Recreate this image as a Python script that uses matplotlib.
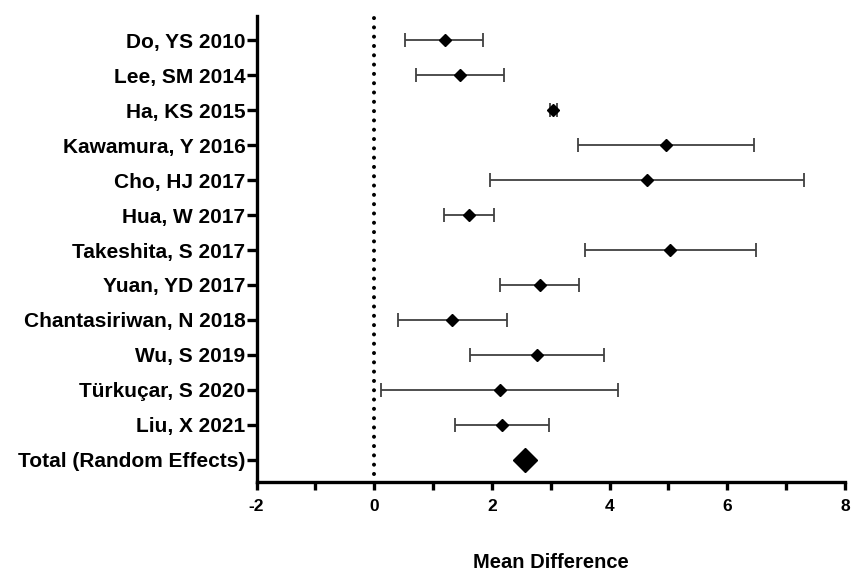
import numpy as np
import matplotlib.pyplot as plt

plt.rcParams['font.family'] = ['Liberation Sans', 'DejaVu Sans']
plt.rcParams['font.weight'] = 'bold'

# study labels, effect sizes and 95% CI
studies = ["Do, YS 2010", "Lee, SM 2014", "Ha, KS 2015", "Kawamura, Y 2016",
           "Cho, HJ 2017", "Hua, W 2017", "Takeshita, S 2017", "Yuan, YD 2017",
           "Chantasiriwan, N 2018", "Wu, S 2019", "Türkuçar, S 2020", "Liu, X 2021"]
mean_diff = [1.20, 1.46, 3.04, 4.96, 4.64, 1.61, 5.03, 2.81, 1.33, 2.77, 2.13, 2.17]
ci_low = [0.53, 0.71, 2.98, 3.47, 1.97, 1.18, 3.58, 2.13, 0.41, 1.63, 0.12, 1.37]
ci_high = [1.85, 2.21, 3.10, 6.45, 7.31, 2.04, 6.48, 3.48, 2.25, 3.90, 4.15, 2.97]
total_label = "Total (Random Effects)"
total_diff = 2.56

labels = studies + [total_label]
pos = np.arange(len(labels))
md = np.array(mean_diff)
err = [md - np.array(ci_low), np.array(ci_high) - md]

fig = plt.figure(figsize=(8.62, 5.73), dpi=100)
ax = fig.add_axes([0.2976, 0.159, 0.6827, 0.813])

# no-effect line
ax.axvline(0, ymin=0.017, ymax=1, color='black', linewidth=2.9,
           linestyle=(0, (0.01, 2.3)), dash_capstyle='round', zorder=1)

# study CIs and point estimates
ax.errorbar(md, pos[:-1], xerr=err, fmt='none', ecolor='#404040',
            elinewidth=1.3, capsize=4.7, capthick=1.3, zorder=2)
ax.plot(md, pos[:-1], 'D', color='black', markersize=6.6, zorder=3)

# pooled estimate
ax.plot([total_diff], [pos[-1]], 'D', color='black', markersize=12.7, zorder=3)

ax.set_xlim(-2, 8)
ax.set_ylim(len(labels) - 1 + 0.63, -0.69)
ax.set_xticks([-2, 0, 2, 4, 6, 8])
ax.set_xticklabels(["-2", "0", "2", "4", "6", "8"])
ax.set_xticks([-1, 1, 3, 5, 7], minor=True)
ax.set_yticks(pos)
ax.set_yticklabels(labels)

for s in ['top', 'right']:
    ax.spines[s].set_visible(False)
for s in ['left', 'bottom']:
    ax.spines[s].set_linewidth(2.4)

ax.tick_params(axis='y', which='major', length=7, width=2.4, labelsize=15, pad=1)
ax.tick_params(axis='x', which='both', length=5.5, width=2.4, labelsize=12.5, pad=6.5)

ax.set_xlabel("Mean Difference", fontsize=14.5, fontweight='bold', labelpad=28.5)

plt.savefig("out.png", dpi=100)
